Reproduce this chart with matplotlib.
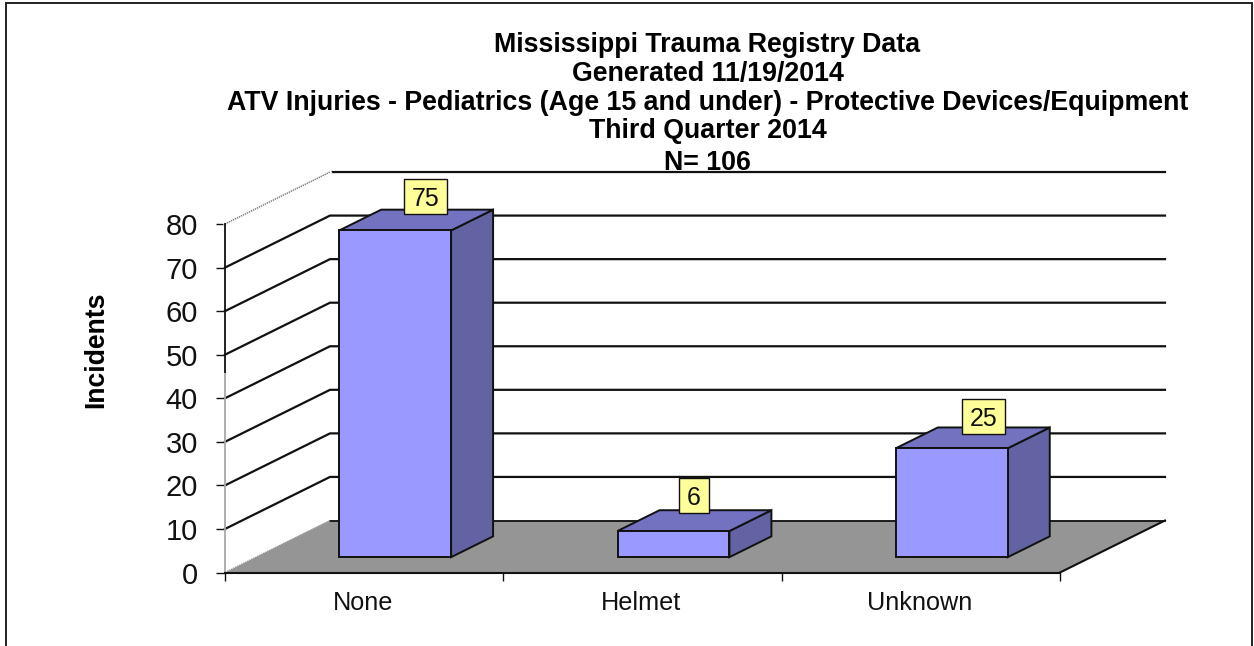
import matplotlib
matplotlib.use('Agg')
import matplotlib.pyplot as plt
from matplotlib.patches import Polygon, Rectangle

plt.rcParams['font.family'] = ['Liberation Sans', 'DejaVu Sans']

# data
categories = ['None', 'Helmet', 'Unknown']
incidents = [75, 6, 25]
y_ticks = [0, 10, 20, 30, 40, 50, 60, 70, 80]
title_lines = ['Mississippi Trauma Registry Data',
               'Generated 11/19/2014',
               'ATV Injuries - Pediatrics (Age 15 and under) - Protective Devices/Equipment',
               'Third Quarter 2014',
               'N= 106']

# layout, in pixels of the 1254x646 picture
title_y_px = [44.5, 73.5, 102.5, 131.5, 162.5]
label_shift_x_px = [9, -1, 10]
label_shift_y_px = [23.5, 25, 21.5]

W, H = 1254, 646
X0_PX, Y0_PX = 225, 572.5     # where category 0 / value 0 sits
PX_PER_CAT = 278.33
PX_PER_VAL = 4.356
DEPTH_DX = 105 / PX_PER_CAT   # oblique shift of the back wall, in data units
DEPTH_DY = 52 / PX_PER_VAL
BAR_W = 0.402
BAR_D0, BAR_D1 = 0.295, 0.695 # bar front/back as a share of floor depth

FRONT = '#9999FF'
TOP = '#7272C0'
SIDE = '#6363A3'
FLOOR = '#959595'
LINE = '#111111'


def proj(x, y, d=0.0):
    return (x + d * DEPTH_DX, y + d * DEPTH_DY)


fig = plt.figure(figsize=(W / 100, H / 100), dpi=100, facecolor='white')
ax = fig.add_axes([0, 0, 1, 1])
ax.set_xlim(-X0_PX / PX_PER_CAT, (W - X0_PX) / PX_PER_CAT)
ax.set_ylim((Y0_PX - H) / PX_PER_VAL, Y0_PX / PX_PER_VAL)
ax.patch.set_visible(False)

n = len(categories)
top_val = y_ticks[-1]

# floor
ax.add_patch(Polygon([proj(0, 0), proj(n, 0), proj(n, 0, 1), proj(0, 0, 1)],
                     closed=True, fc=FLOOR, ec='none', zorder=1))
ax.plot(*zip(proj(0, 0, 1), proj(n, 0, 1)), color=LINE, lw=1.3, zorder=2)
ax.plot(*zip(proj(n, 0), proj(n, 0, 1)), color=LINE, lw=1.5, zorder=2)
ax.plot(*zip(proj(0, 0), proj(0, 0, 1)), color='#999999', lw=1, ls=(0, (1, 0.6)), zorder=2)

# gridlines running up the side wall and along the back wall
for v in y_ticks[1:]:
    pts = [proj(0, v), proj(0, v, 1), proj(n, v, 1)]
    xs, ys = zip(*pts)
    ax.plot(xs, ys, color=LINE, lw=1.6, zorder=2, solid_joinstyle='miter')
    if v == top_val:
        ax.plot(*zip(pts[0], pts[1]), color='white', lw=2.4, zorder=2.1)
        ax.plot(*zip(pts[0], pts[1]), color='#777777', lw=1, ls=(0, (1, 0.6)), zorder=2.2)

# bars
for i, (name, val) in enumerate(zip(categories, incidents)):
    x0 = i + 0.5 - BAR_W / 2
    x1 = i + 0.5 + BAR_W / 2
    front = [proj(x0, 0, BAR_D0), proj(x1, 0, BAR_D0), proj(x1, val, BAR_D0), proj(x0, val, BAR_D0)]
    side = [proj(x1, 0, BAR_D0), proj(x1, 0, BAR_D1), proj(x1, val, BAR_D1), proj(x1, val, BAR_D0)]
    top = [proj(x0, val, BAR_D0), proj(x1, val, BAR_D0), proj(x1, val, BAR_D1), proj(x0, val, BAR_D1)]
    for pts, col in ((side, SIDE), (top, TOP), (front, FRONT)):
        ax.add_patch(Polygon(pts, closed=True, fc=col, ec=LINE, lw=1.4, zorder=3,
                             joinstyle='miter'))

    # yellow value box, fixed height and as wide as its digits
    cx, cy = proj(i + 0.5, val, 0.5)
    cx += label_shift_x_px[i] / PX_PER_CAT
    cy += label_shift_y_px[i] / PX_PER_VAL
    box_w = (17 + 13 * len(str(val))) / PX_PER_CAT
    box_h = 35 / PX_PER_VAL
    ax.add_patch(Rectangle((cx - box_w / 2, cy - box_h / 2), box_w, box_h,
                           fc='#FFFF99', ec=LINE, lw=1, zorder=5))
    ax.text(cx, cy, str(val), ha='center', va='center_baseline', fontsize=18,
            color='#111111', zorder=6)

# axes
for side_name in ('top', 'right'):
    ax.spines[side_name].set_visible(False)
ax.spines['left'].set_position(('data', 0))
ax.spines['bottom'].set_position(('data', 0))
ax.spines['left'].set_bounds(46, top_val)
ax.spines['bottom'].set_bounds(0, n)
ax.spines['left'].set_linewidth(1.3)
ax.spines['bottom'].set_linewidth(1.5)
ax.spines['left'].set_color(LINE)
ax.spines['bottom'].set_color(LINE)
ax.spines['left'].set_zorder(4)
ax.spines['bottom'].set_zorder(4)
ax.plot([0, 0], [0, 46], color='#A8A8A8', lw=1.3, zorder=4)

ax.set_yticks(y_ticks)
ax.set_yticklabels([str(v) for v in y_ticks], fontsize=21, color='#111111')
ax.tick_params(axis='y', direction='out', length=6.5, width=1, pad=13, color=LINE)
ax.set_xticks(range(n + 1))
ax.set_xticklabels([])
ax.tick_params(axis='x', which='major', direction='out', length=5.5, width=1, color=LINE)
ax.set_xticks([i + 0.5 - 0.005 for i in range(n)], minor=True)
ax.set_xticklabels(categories, minor=True, fontsize=18.2, color='#111111')
ax.tick_params(axis='x', which='minor', length=0, pad=13.5)

# titles
for line, y_px in zip(title_lines, title_y_px):
    fig.text(707.5 / W, 1 - y_px / H, line, ha='center', va='center',
             fontsize=19.3, fontweight='bold', color='black')
fig.text(96 / W, 1 - 349.5 / H, 'Incidents', rotation=90, ha='center', va='center',
         fontsize=19.2, fontweight='bold', color='black')

# chart frame, the picture cuts it off at the bottom
fig.add_artist(Rectangle((6 / W, -0.05), (1252 - 6) / W, 1.05 - 2.5 / H,
                         transform=fig.transFigure, fill=False, ec='#222222', lw=1.4))

fig.savefig('out.png', dpi=100)
